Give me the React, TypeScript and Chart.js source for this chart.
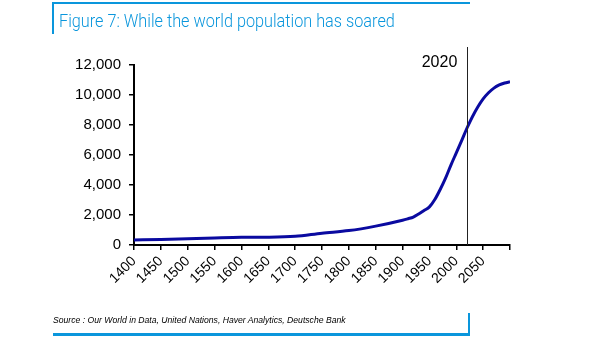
import React, { useEffect, useRef } from "react";
import { Chart, registerables } from "chart.js";

Chart.register(...registerables);

const years = [1400, 1450, 1500, 1550, 1600, 1650, 1700, 1750, 1800, 1850, 1900, 1910, 1920, 1930, 1940, 1950, 1960, 1970, 1980, 1990, 2000, 2010, 2020, 2030, 2040, 2050, 2060, 2070, 2080, 2090, 2100];
const population = [340, 370, 420, 470, 510, 520, 580, 790, 960, 1260, 1650, 1750, 1860, 2070, 2300, 2540, 3030, 3700, 4460, 5330, 6140, 6960, 7800, 8550, 9200, 9740, 10150, 10460, 10670, 10800, 10880];
const markerYear = 2020;
const markerLabel = "2020";
const yTicks = [0, 2000, 4000, 6000, 8000, 10000, 12000];
const xTickStep = 50;

const markerPlugin = {
  id: "marker",
  afterDatasetsDraw(chart: any) {
    const { ctx, scales, chartArea } = chart;
    const x = Math.round(scales.x.getPixelForValue(markerYear)) + 0.5;
    ctx.save();
    ctx.strokeStyle = "#222";
    ctx.lineWidth = 1;
    ctx.beginPath();
    ctx.moveTo(x, 47);
    ctx.lineTo(x, chartArea.bottom);
    ctx.stroke();
    ctx.fillStyle = "#000";
    ctx.font = "16px 'Liberation Sans', Arial, sans-serif";
    ctx.textAlign = "center";
    ctx.textBaseline = "middle";
    ctx.fillText(markerLabel, x - 28, 63);
    ctx.restore();
  },
};

export default function App() {
  const ref = useRef<HTMLCanvasElement>(null);
  useEffect(() => {
    const chart = new Chart(ref.current!, {
      type: "line",
      data: {
        datasets: [
          {
            data: years.map((y, i) => ({ x: y, y: population[i] })),
            borderColor: "#0a0aa0",
            borderWidth: 3,
            pointRadius: 0,
            tension: 0.4,
            cubicInterpolationMode: "monotone",
            fill: false,
          },
        ],
      },
      options: {
        responsive: false,
        animation: false,
        plugins: { legend: { display: false }, tooltip: { enabled: false } },
        layout: { padding: { left: 60, right: 95, top: 65, bottom: 0 } },
        scales: {
          x: {
            type: "linear",
            min: 1400,
            max: 2100,
            afterFit: (s: any) => { s.height = 96; },
            border: { display: true, color: "#000", width: 2 },
            grid: { drawOnChartArea: false, drawTicks: true, tickLength: 5, color: "#000", lineWidth: 1.5 },
            ticks: {
              stepSize: xTickStep,
              autoSkip: false,
              minRotation: 45,
              maxRotation: 45,
              padding: 3,
              color: "#000",
              font: { family: "'Liberation Sans', Arial, sans-serif", size: 14 },
              callback: (v: any) => (v === 2100 ? "" : String(v)),
            },
          },
          y: {
            min: 0,
            max: 12000,
            afterFit: (s: any) => { s.width = 74; },
            afterBuildTicks: (s: any) => { s.ticks = yTicks.map((v) => ({ value: v })); },
            border: { display: true, color: "#000", width: 2 },
            grid: { drawOnChartArea: false, drawTicks: true, tickLength: 5, color: "#000", lineWidth: 1.5 },
            ticks: {
              padding: 8,
              color: "#000",
              font: { family: "'Liberation Sans', Arial, sans-serif", size: 15 },
              callback: (v: any) => Number(v).toLocaleString("en-US"),
            },
          },
        },
      },
      plugins: [markerPlugin],
    } as any);
    return () => chart.destroy();
  }, []);

  return (
    <div style={{ position: "fixed", left: 0, top: 0, width: 605, height: 341, background: "#fff", overflow: "hidden" }}>
      <canvas ref={ref} width={605} height={341} style={{ position: "absolute", left: 0, top: 0 }} />
      <div style={{ position: "absolute", left: 53, top: 2, width: 417, height: 2, background: "#0a96dc" }} />
      <div style={{ position: "absolute", left: 52, top: 2, width: 2, height: 32, background: "#0a96dc" }} />
      <div
        style={{
          position: "absolute",
          left: 59,
          top: 10,
          fontFamily: "Roboto, 'Noto Sans', sans-serif",
          fontWeight: 300,
          fontSize: 19,
          color: "#0a96dc",
          whiteSpace: "nowrap",
          lineHeight: "22px",
          transform: "scaleX(0.855)",
          transformOrigin: "0 0",
        }}
      >
        Figure 7: While the world population has soared
      </div>
      <div
        style={{
          position: "absolute",
          left: 53,
          top: 314,
          fontFamily: "'Liberation Sans', Arial, sans-serif",
          fontStyle: "italic",
          fontSize: 8.65,
          color: "#000",
          whiteSpace: "nowrap",
          lineHeight: "12px",
        }}
      >
        Source : Our World in Data, United Nations, Haver Analytics, Deutsche Bank
      </div>
      <div style={{ position: "absolute", left: 468, top: 313, width: 2, height: 23, background: "#0a96dc" }} />
      <div style={{ position: "absolute", left: 53, top: 333, width: 417, height: 3, background: "#0a96dc" }} />
    </div>
  );
}
